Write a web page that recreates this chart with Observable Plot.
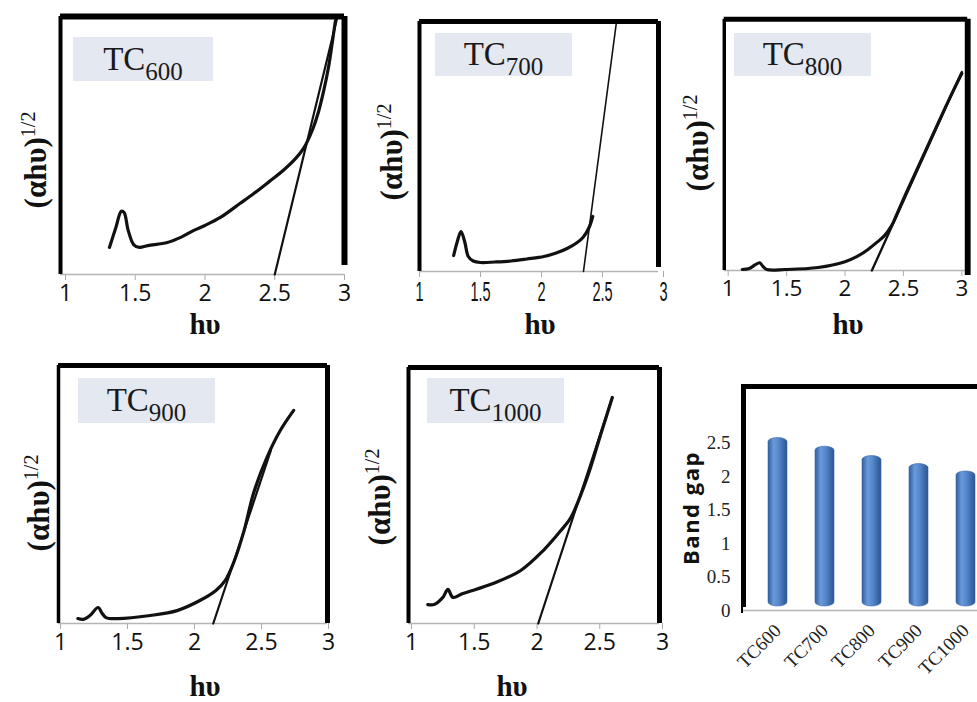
<!DOCTYPE html>
<html><head><meta charset="utf-8">
<script src="https://cdn.jsdelivr.net/npm/d3@7"></script>
<script src="https://cdn.jsdelivr.net/npm/@observablehq/plot@0.6"></script>
<style>
html,body{margin:0;padding:0;background:#fff;}
#fig{position:relative;width:977px;height:702px;overflow:hidden;background:#fff;}
.panel{position:absolute;}
.panel svg{overflow:visible;}
#p6 svg{overflow:hidden;}
.panel svg text{font-family:'Open Sans',sans-serif;}
#p2 svg text{font-family:'Liberation Sans',sans-serif;font-size:28px;}
#p6 svg text{font-family:'Liberation Serif',serif;}
.panel svg [aria-label="x-axis"] line,.panel svg [aria-label="x-axis tick"]{stroke:#aaa;}
.lab{position:absolute;background:#e4e8f0;font-family:'Liberation Serif',serif;font-size:33px;text-align:center;color:#1a1a1a;white-space:nowrap;}
.lab sub{font-size:25px;line-height:0;vertical-align:-10px;}
.ylab{position:absolute;font-family:'Liberation Serif',serif;font-weight:bold;font-size:31px;white-space:nowrap;transform:translate(-50%,-50%) rotate(-90deg);color:#111;line-height:1;}
.ylab sup{font-weight:normal;font-size:20px;vertical-align:11px;line-height:0;}
.xlab{position:absolute;font-family:'Liberation Serif',serif;font-weight:bold;font-size:29px;transform:translate(-50%,-50%);line-height:1;color:#111;white-space:nowrap;}
.bglab{position:absolute;font-family:'Open Sans',sans-serif;font-weight:bold;font-size:22px;letter-spacing:1.5px;white-space:nowrap;transform:translate(-50%,-50%) rotate(-90deg);line-height:1;color:#111;}
</style>
</head><body>
<div id="fig"></div>
<script>
// ---------- data ----------
const hvTicks = [1, 1.5, 2, 2.5, 3];
const sampleNames = ["TC600", "TC700", "TC800", "TC900", "TC1000"];
const sampleSubs = ["600", "700", "800", "900", "1000"];

const tc600Hv = [1.315, 1.36, 1.40, 1.42, 1.45, 1.49, 1.53, 1.59, 1.73, 1.83, 1.92, 2.0, 2.11, 2.25, 2.35, 2.46, 2.56, 2.65, 2.71, 2.77, 2.81, 2.85, 2.885, 2.91, 2.935];
const tc600Y  = [10.5, 18, 24.5, 24, 17, 11.5, 10.5, 11.2, 12.4, 14.5, 17.1, 19, 22.1, 27.5, 31.4, 36, 40.3, 45, 49.2, 56, 62.4, 71, 80.2, 89, 98.4];
const tc600TanHv = [2.5, 2.95];
const tc600TanY  = [0, 100];

const tc700Hv = [1.28, 1.31, 1.34, 1.37, 1.40, 1.44, 1.50, 1.62, 1.75, 1.88, 2.02, 2.12, 2.21, 2.29, 2.34, 2.39, 2.42];
const tc700Y  = [6.4, 12, 16, 12, 6, 4.2, 3.6, 3.8, 4.2, 5, 6, 7.4, 9.2, 11.5, 13.6, 17.6, 22];
const tc700TanHv = [2.344, 2.615];
const tc700TanY  = [0, 100];

const tc800Hv = [1.12, 1.18, 1.23, 1.27, 1.30, 1.33, 1.49, 1.77, 2.0, 2.1, 2.2, 2.28, 2.34, 2.40, 2.44, 2.52, 2.72, 2.88, 3.0];
const tc800Y  = [0.4, 0.8, 2.2, 3.1, 1.5, 0.4, 0.4, 1.2, 3.5, 5.5, 8.5, 11.5, 14, 18, 22, 30.5, 50.8, 67, 78.5];
const tc800TanHv = [2.23, 3.0];
const tc800TanY  = [0, 79];

const tc900Hv = [1.13, 1.17, 1.22, 1.28, 1.31, 1.34, 1.43, 1.67, 1.87, 2.04, 2.16, 2.23, 2.29, 2.37, 2.44, 2.54, 2.64, 2.74];
const tc900Y  = [1.9, 1.6, 3.1, 6.2, 4, 2.3, 1.9, 3.1, 5.0, 8.9, 12.8, 16.7, 23.3, 36.0, 50.4, 64.3, 74.8, 82.6];
const tc900TanHv = [2.14, 2.57];
const tc900TanY  = [0, 67.1];

const tc1000Hv = [1.13, 1.18, 1.25, 1.29, 1.33, 1.41, 1.65, 1.87, 2.05, 2.19, 2.27, 2.40, 2.51, 2.60];
const tc1000Y  = [7.4, 7.4, 10.2, 13.3, 10.2, 11.7, 15.6, 20.7, 28.5, 36.3, 41.4, 57.0, 74.2, 88.3];
const tc1000TanHv = [2.01, 2.60];
const tc1000TanY  = [0, 88.3];

const bandGap = [2.58, 2.45, 2.31, 2.19, 2.08];
const bandTicks = [0, 0.5, 1, 1.5, 2, 2.5];

// ---------- layout (page pixels) ----------
const layouts = [
  {id:"p1", t1:65,  t3:344, fl:60,  fr:344, top:16,  axis:274, rb:3.5, lw:[4,6,6],   hv:tc600Hv,  y:tc600Y,  thv:tc600TanHv,  ty:tc600TanY,  tw:2.2,
   box:[73,37,140,44], ylab:[35,160], xlab:[205,324]},
  {id:"p2", t1:419, t3:663, fl:419, fr:658, top:21,  axis:271, rb:1.6, lw:[4,5,5],   hv:tc700Hv,  y:tc700Y,  thv:tc700TanHv,  ty:tc700TanY,  tw:1.6,
   box:[435,33,137,43], ylab:[391,152], xlab:[540,324]},
  {id:"p3", t1:728, t3:967, fl:724, fr:973, top:19,  axis:276, rb:-2,  lw:[3.5,6,5], hv:tc800Hv,  y:tc800Y,  thv:tc800TanHv,  ty:tc800TanY,  tw:2.4,
   box:[734,33,137,43], ylab:[697,143], xlab:[848,324]},
  {id:"p4", t1:60,  t3:328, fl:58,  fr:327, top:365, axis:623, rb:0,   lw:[3.5,5,5], hv:tc900Hv,  y:tc900Y,  thv:tc900TanHv,  ty:tc900TanY,  tw:2.2,
   box:[78,378,137,45], ylab:[38,503], xlab:[205,686]},
  {id:"p5", t1:411, t3:662, fl:408, fr:659, top:367, axis:623, rb:0,   lw:[4,5,5],   hv:tc1000Hv, y:tc1000Y, thv:tc1000TanHv, ty:tc1000TanY, tw:2.2,
   box:[427,378,137,45], ylab:[379,497], xlab:[512,686]}
];

const fig = document.getElementById("fig");
const fmt = d3.format("~g");

layouts.forEach((L, i) => {
  const span = L.t3 - L.t1;
  const x0 = 1 + (L.fl - L.t1) / span * 2;
  const x1 = 1 + (L.fr - L.t1) / span * 2;
  const curve = L.hv.map((h, k) => ({hv: h, v: L.y[k]}));
  const tan = L.thv.map((h, k) => ({hv: h, v: L.ty[k]}));
  const pad = 10;
  const W = L.fr - L.fl + 2 * pad;
  const H = L.axis - L.top + pad + 40;
  const svg = Plot.plot({
    width: W, height: H,
    marginLeft: pad, marginRight: pad, marginTop: pad, marginBottom: 40,
    x: {domain: [x0, x1], ticks: hvTicks, tickFormat: fmt, tickSize: 6, tickPadding: 4, label: null},
    y: {domain: [0, 100], axis: null},
    style: {background: "transparent", fontSize: L.id === "p2" ? "28px" : "23px", color: "#111", overflow: "visible"},
    marks: [
      Plot.ruleY([0], {stroke: "#b5b5b5", strokeWidth: 1.5}),
      Plot.line(tan, {x: "hv", y: "v", stroke: "#111", strokeWidth: L.tw}),
      Plot.line(curve, {x: "hv", y: "v", curve: "catmull-rom", stroke: "#111", strokeWidth: 3.2}),
      Plot.ruleX([x0], {y1: 0, y2: 100, stroke: "#000", strokeWidth: L.lw[0]}),
      Plot.ruleX([x1], {y1: L.rb, y2: 100, stroke: "#000", strokeWidth: L.lw[1]}),
      Plot.ruleY([100], {x1: x0, x2: x1, stroke: "#000", strokeWidth: L.lw[2]})
    ]
  });
  const d = document.createElement("div");
  d.className = "panel"; d.id = L.id;
  d.style.left = (L.fl - pad) + "px";
  d.style.top = (L.top - pad) + "px";
  d.appendChild(svg);
  fig.appendChild(d);

  if (L.id === "p2") {
    // condensed tick labels, as in the reference panel
    svg.querySelectorAll("text").forEach(t => {
      const len = t.getComputedTextLength();
      if (len > 0) {
        t.setAttribute("textLength", (len * 0.52).toFixed(1));
        t.setAttribute("lengthAdjust", "spacingAndGlyphs");
      }
    });
  }

  const b = document.createElement("div");
  b.className = "lab";
  b.style.left = L.box[0] + "px"; b.style.top = L.box[1] + "px";
  b.style.width = L.box[2] + "px"; b.style.height = L.box[3] + "px";
  b.style.lineHeight = L.box[3] + "px";
  b.innerHTML = "TC<sub>" + sampleSubs[i] + "</sub>";
  fig.appendChild(b);

  const yl = document.createElement("div");
  yl.className = "ylab";
  yl.style.left = L.ylab[0] + "px"; yl.style.top = L.ylab[1] + "px";
  yl.innerHTML = "(αhυ)<sup>1/2</sup>";
  fig.appendChild(yl);

  const xl = document.createElement("div");
  xl.className = "xlab";
  xl.style.left = L.xlab[0] + "px"; xl.style.top = L.xlab[1] + "px";
  xl.textContent = "hυ";
  fig.appendChild(xl);
});

// ---------- band gap bar chart ----------
const bars = sampleNames.map((n, k) => ({cat: n, gap: bandGap[k]}));
const bl = {left: 700, top: 376, fl: 743, axis: 610, ftop: 386};
const bW = 277;
const bH = (bl.axis - bl.top) + 80;
const bsvg = Plot.plot({
  width: bW, height: bH,
  marginLeft: bl.fl - bl.left, marginRight: -14, marginTop: bl.ftop - bl.top, marginBottom: 80,
  x: {domain: sampleNames, range: [53, 290.5], paddingInner: 0.6, paddingOuter: 0.3, tickSize: 0, tickPadding: 17, tickRotate: -45, label: null},
  y: {domain: [0, 3.35], ticks: bandTicks, tickFormat: fmt, tickSize: 0, tickPadding: 13, label: null},
  style: {background: "transparent", fontSize: "19px", color: "#222"},
  marks: [
    Plot.frame({stroke: "#000", strokeWidth: 5}),
    Plot.ruleY([0], {stroke: "#fff", strokeWidth: 7}),
    Plot.ruleY([0], {stroke: "#b5b5b5", strokeWidth: 1.5}),
    Plot.barY(bars, {x: "cat", y: "gap", fill: "url(#cyl)", rx: 9.5, ry: 4, insetBottom: 4, stroke: "#3a6aa8", strokeWidth: 0.6})
  ]
});
const defs = d3.select(bsvg).insert("defs", ":first-child");
const grad = defs.append("linearGradient").attr("id", "cyl").attr("x1", "0").attr("x2", "1").attr("y1", "0").attr("y2", "0");
grad.append("stop").attr("offset", "0%").attr("stop-color", "#2f5f9e");
grad.append("stop").attr("offset", "30%").attr("stop-color", "#6a9ad9");
grad.append("stop").attr("offset", "55%").attr("stop-color", "#5588cc");
grad.append("stop").attr("offset", "100%").attr("stop-color", "#2b5590");
const bd = document.createElement("div");
bd.className = "panel"; bd.id = "p6";
bd.style.left = bl.left + "px"; bd.style.top = bl.top + "px";
bd.appendChild(bsvg);
fig.appendChild(bd);

const bg = document.createElement("div");
bg.className = "bglab";
bg.style.left = "690px"; bg.style.top = "508px";
bg.textContent = "Band gap";
fig.appendChild(bg);
</script>
</body></html>
